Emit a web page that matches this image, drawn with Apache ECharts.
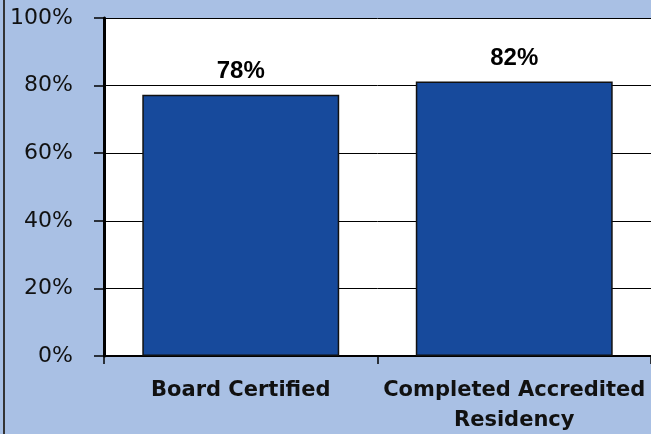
<!DOCTYPE html>
<html>
<head>
<meta charset="utf-8">
<script src="https://cdn.jsdelivr.net/npm/echarts@6/dist/echarts.min.js"></script>
<style>
  html, body { margin: 0; padding: 0; background: #a9c0e4; }
  #main { width: 651px; height: 434px; }
</style>
</head>
<body>
<div id="main"></div>
<script>
const categories = ['Board Certified', 'Completed Accredited\nResidency']
const values = [77.3, 81.2]
const valueLabels = ['78%', '82%']
const yTicks = [0, 20, 40, 60, 80, 100]

const chart = echarts.init(document.getElementById('main'))
const option = {
  backgroundColor: '#a9c0e4',
  animation: false,
  grid: {
    left: 104, top: 18, right: 0, bottom: 78,
    outerBoundsMode: 'none',
    show: true, backgroundColor: '#fff', borderWidth: 0
  },
  graphic: [
    {
      type: 'rect',
      shape: { x: 3, y: 0, width: 2, height: 434 },
      style: { fill: '#333' }
    }
  ],
  xAxis: {
    type: 'category',
    data: categories,
    axisLine: { lineStyle: { color: '#000', width: 2 } },
    axisTick: { show: true, length: 8, lineStyle: { color: '#000', width: 1.5 } },
    axisLabel: {
      interval: 0,
      margin: 20,
      color: '#111',
      fontFamily: 'DejaVu Sans',
      fontWeight: 'bold',
      fontSize: 21,
      lineHeight: 30
    }
  },
  yAxis: {
    type: 'value',
    min: 0,
    max: 100,
    interval: 20,
    axisLine: { show: true, lineStyle: { color: '#000', width: 3 } },
    axisTick: { show: true, length: 10, lineStyle: { color: '#000', width: 1.5 } },
    splitLine: { lineStyle: { color: '#000', width: 1 } },
    axisLabel: {
      margin: 31,
      color: '#111',
      fontFamily: 'DejaVu Sans',
      fontSize: 22,
      formatter: v => yTicks.includes(v) ? v + '%' : ''
    }
  },
  series: [
    {
      type: 'bar',
      data: values,
      barWidth: '72%',
      itemStyle: { color: '#174a9c', borderColor: '#111', borderWidth: 1.5 },
      label: {
        show: true,
        position: 'top',
        distance: 11,
        color: '#000',
        fontFamily: 'Arial, "Liberation Sans", sans-serif',
        fontWeight: 'bold',
        fontSize: 24,
        formatter: p => valueLabels[p.dataIndex]
      }
    }
  ]
}
chart.setOption(option)
</script>
</body>
</html>
